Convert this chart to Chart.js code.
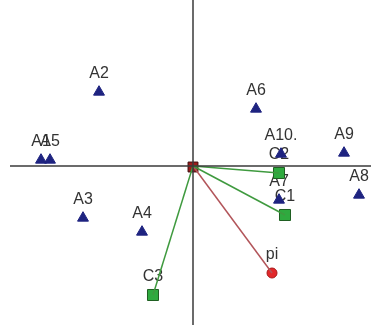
<!DOCTYPE html>
<html>
<head>
<meta charset="utf-8">
<script src="https://cdn.jsdelivr.net/npm/chart.js@4"></script>
<style>
  html, body { margin: 0; padding: 0; background: #fff; }
  #wrap { width: 371px; height: 325px; }
</style>
</head>
<body>
<div id="wrap"><canvas id="chart"></canvas></div>
<script>
// Samples (triangles)
const sampleNames = ['A1', 'A5', 'A2', 'A3', 'A4', 'A6', 'A10.', 'A9', 'A8', 'A7'];
const sampleX = [-1.52, -1.43, -0.94, -1.10, -0.51, 0.63, 0.88, 1.51, 1.66, 0.86];
const sampleY = [0.06, 0.06, 0.74, -0.52, -0.66, 0.57, 0.12, 0.13, -0.29, -0.34];

// Variables (green squares) and the pi vector
const varNames = ['C1', 'C2', 'C3'];
const varX = [0.92, 0.86, -0.40];
const varY = [-0.49, -0.07, -1.29];
const piName = 'pi';
const piX = 0.79;
const piY = -1.07;

// Axis extent
const xMin = -1.93, xMax = 1.78;
const yMin = -1.59, yMax = 1.66;
const hAxisStart = -1.83;

document.addEventListener('DOMContentLoaded', function() {
    const toPts = (xs, ys) => xs.map((x, i) => ({ x: x, y: ys[i] }));

    // Vectors from origin
    const vecSets = varX.map((x, i) => ({
        type: 'line',
        data: [{ x: 0, y: 0 }, { x: x, y: varY[i] }],
        borderColor: '#3f9a3f',
        borderWidth: 1.5,
        pointRadius: 0,
        fill: false
    }));

    const datasets = [
        // axes
        {
            type: 'line',
            data: [{ x: hAxisStart, y: 0 }, { x: xMax, y: 0 }],
            borderColor: '#3a3a3a', borderWidth: 1.5, pointRadius: 0
        },
        {
            type: 'line',
            data: [{ x: 0, y: yMin }, { x: 0, y: yMax }],
            borderColor: '#3a3a3a', borderWidth: 1.5, pointRadius: 0
        },
        ...vecSets,
        {
            type: 'line',
            data: [{ x: 0, y: 0 }, { x: piX, y: piY }],
            borderColor: '#b2555a', borderWidth: 1.5, pointRadius: 0
        },
        {
            label: 'samples',
            labels: sampleNames,
            data: toPts(sampleX, sampleY),
            pointStyle: 'triangle',
            pointRadius: 6.3,
            backgroundColor: '#1e2380',
            borderColor: '#1e2380',
            borderWidth: 1
        },
        {
            label: 'vars',
            labels: varNames,
            data: toPts(varX, varY),
            pointStyle: 'rect',
            pointRadius: 7.8,
            backgroundColor: '#2faa3f',
            borderColor: '#1f5f22',
            borderWidth: 1
        },
        {
            label: 'pi',
            labels: [piName],
            data: [{ x: piX, y: piY }],
            pointStyle: 'circle',
            pointRadius: 5,
            backgroundColor: '#e2282a',
            borderColor: '#a81818',
            borderWidth: 1
        },
        {
            label: 'origin',
            labels: [''],
            data: [{ x: 0, y: -0.01 }],
            pointStyle: 'rect',
            pointRadius: 7,
            backgroundColor: '#9c1c1c',
            borderColor: '#3c0c0c',
            borderWidth: 1
        }
    ];

    // Labels above the markers, drawn under them
    const pointLabels = {
        id: 'pointLabels',
        beforeDatasetsDraw(chart) {
            const ctx = chart.ctx;
            ctx.save();
            ctx.font = '16px "Liberation Sans", Arial, sans-serif';
            ctx.fillStyle = '#333333';
            ctx.textAlign = 'center';
            ctx.textBaseline = 'middle';
            chart.data.datasets.forEach((ds, i) => {
                if (!ds.labels) return;
                const meta = chart.getDatasetMeta(i);
                meta.data.forEach((el, j) => {
                    const txt = ds.labels[j];
                    if (txt) ctx.fillText(txt, el.x, el.y - 18);
                });
            });
            ctx.restore();
        }
    };

    new Chart(document.getElementById('chart'), {
        type: 'scatter',
        data: { datasets: datasets },
        options: {
            responsive: true,
            maintainAspectRatio: false,
            animation: false,
            layout: { padding: 0, autoPadding: false },
            plugins: {
                legend: { display: false },
                tooltip: { enabled: false }
            },
            scales: {
                x: { type: 'linear', min: xMin, max: xMax, display: false },
                y: { type: 'linear', min: yMin, max: yMax, display: false }
            }
        },
        plugins: [pointLabels]
    });
});
</script>
</body>
</html>
